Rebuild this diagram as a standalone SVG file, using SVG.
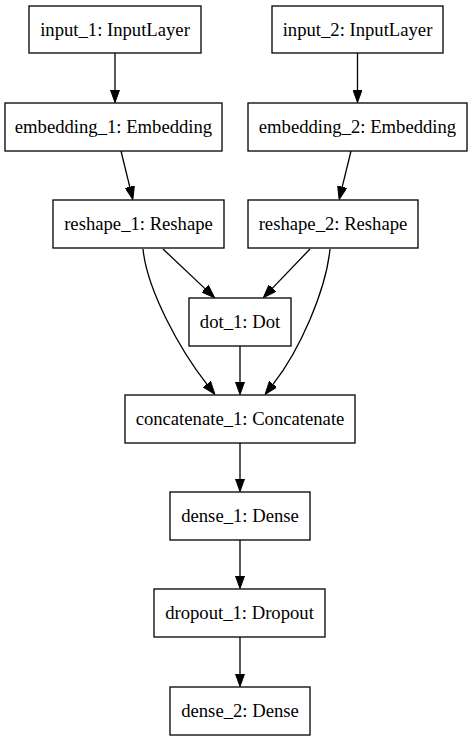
<svg xmlns="http://www.w3.org/2000/svg" width="472" height="741" viewBox="0 0 472 741">
<style>
.node rect{fill:#fff;stroke:#000;stroke-width:1.3}
.node text{font-family:"Liberation Serif","Times New Roman",serif;font-size:18.67px;text-anchor:middle;fill:#000}
.edges path{fill:none;stroke:#000;stroke-width:1.3}
</style>
<defs>
<marker id="ah" markerUnits="userSpaceOnUse" viewBox="0 0 13 9.4" refX="0.5" refY="4.7" markerWidth="13" markerHeight="9.4" orient="auto">
<path d="M0,0 L13,4.7 L0,9.4 Z" fill="#000" stroke="#000" stroke-width="1"/>
</marker>
</defs>
<rect width="472" height="741" fill="#fff"/>
<g class="edges">
<path d="M115,53 L115,90" marker-end="url(#ah)"/>
<path d="M357.5,53 L357.5,90" marker-end="url(#ah)"/>
<path d="M121,151 L129.9,187.4" marker-end="url(#ah)"/>
<path d="M351,151 L342.1,187.4" marker-end="url(#ah)"/>
<path d="M163,249 L205.5,289.1" marker-end="url(#ah)"/>
<path d="M310,249 L272,288.6" marker-end="url(#ah)"/>
<path d="M143,249 C147,290 180,350 207.2,384.6" marker-end="url(#ah)"/>
<path d="M330,249 C326,290 300,350 272.8,384.6" marker-end="url(#ah)"/>
<path d="M240,346 L240,382" marker-end="url(#ah)"/>
<path d="M240,443 L240,479" marker-end="url(#ah)"/>
<path d="M240,540 L240,576" marker-end="url(#ah)"/>
<path d="M240,637 L240,674" marker-end="url(#ah)"/>
</g>
<g id="input_1" class="node"><rect x="29" y="6" width="172" height="47"/><text x="115" y="35.5">input_1: InputLayer</text></g>
<g id="input_2" class="node"><rect x="272" y="6" width="171" height="47"/><text x="357.5" y="35.5">input_2: InputLayer</text></g>
<g id="embedding_1" class="node"><rect x="5" y="103" width="217" height="48"/><text x="113.5" y="132.5">embedding_1: Embedding</text></g>
<g id="embedding_2" class="node"><rect x="248" y="103" width="219" height="48"/><text x="357.5" y="132.5">embedding_2: Embedding</text></g>
<g id="reshape_1" class="node"><rect x="53" y="200" width="171" height="48"/><text x="138.5" y="229.5">reshape_1: Reshape</text></g>
<g id="reshape_2" class="node"><rect x="248" y="200" width="170" height="48"/><text x="333" y="229.5">reshape_2: Reshape</text></g>
<g id="dot_1" class="node"><rect x="189" y="298" width="102" height="48"/><text x="240" y="327.5">dot_1: Dot</text></g>
<g id="concatenate_1" class="node"><rect x="125" y="395" width="230" height="48"/><text x="240" y="424.5">concatenate_1: Concatenate</text></g>
<g id="dense_1" class="node"><rect x="170" y="492" width="140" height="48"/><text x="240" y="521.5">dense_1: Dense</text></g>
<g id="dropout_1" class="node"><rect x="154" y="589" width="171" height="48"/><text x="239.5" y="618.5">dropout_1: Dropout</text></g>
<g id="dense_2" class="node"><rect x="170" y="687" width="140" height="48"/><text x="240" y="716.5">dense_2: Dense</text></g>
</svg>
